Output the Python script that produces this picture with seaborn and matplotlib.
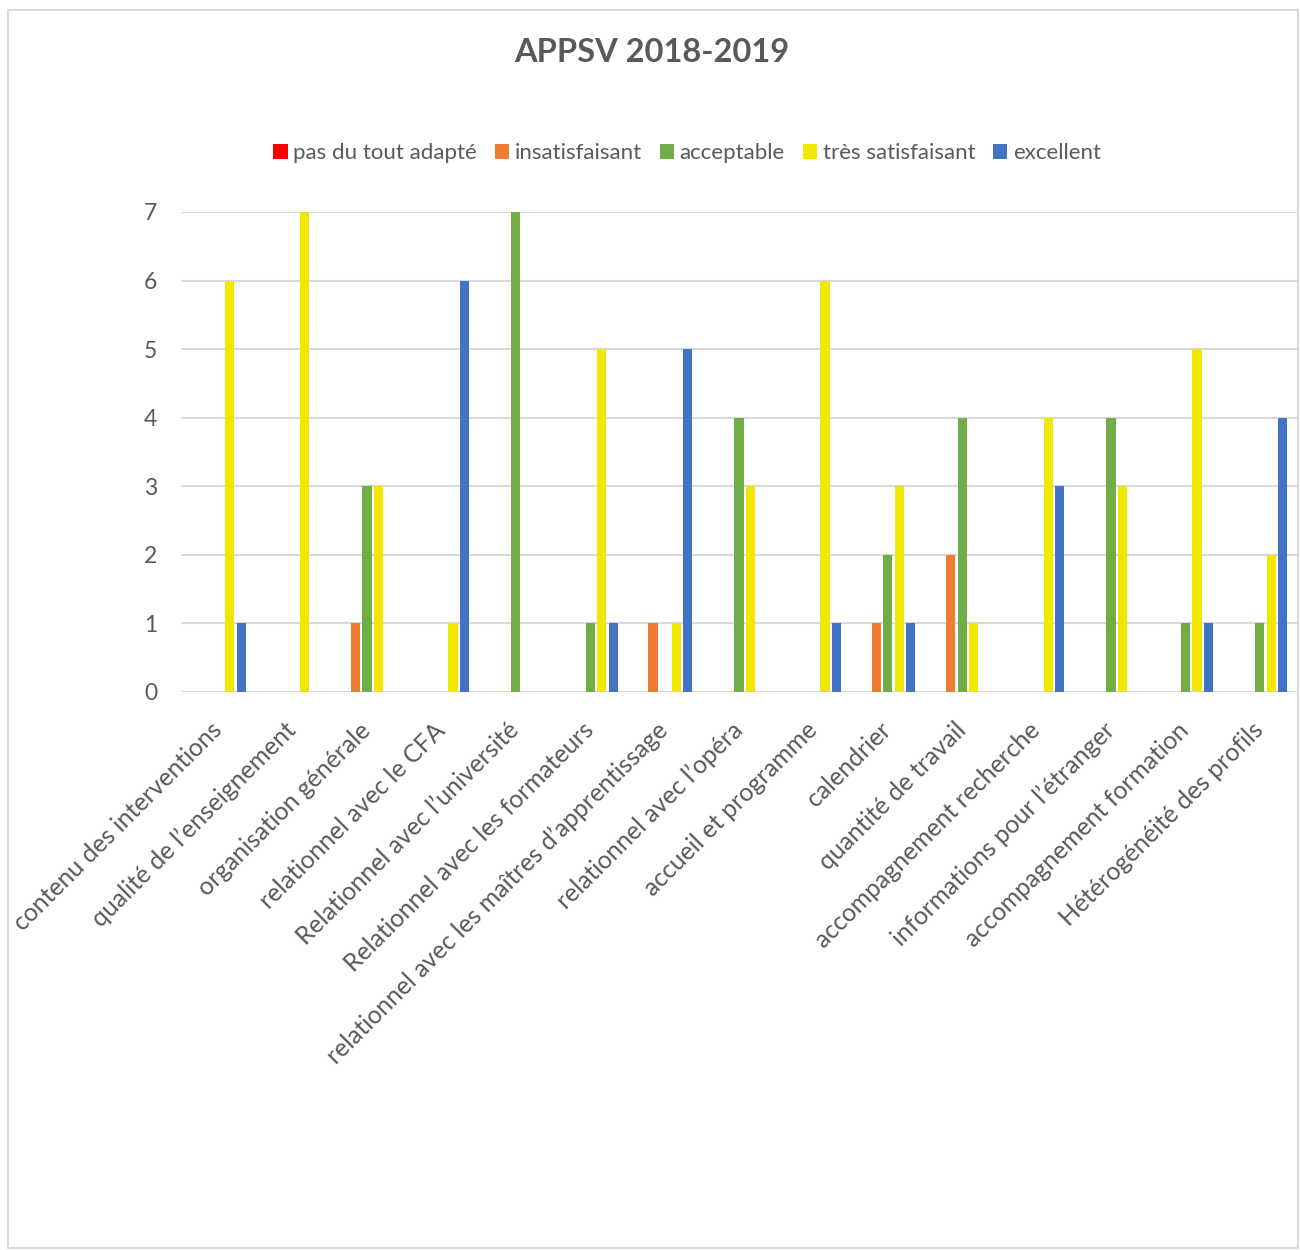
import pandas as pd
import matplotlib.pyplot as plt
import matplotlib.transforms as mtransforms
import seaborn as sns
from matplotlib.patches import Rectangle

###############################################################################
#data
categories = ["contenu des interventions", "qualité de l’enseignement",
              "organisation générale", "relationnel avec le CFA",
              "Relationnel avec l’université", "Relationnel avec les formateurs",
              "relationnel avec les maîtres d’apprentissage", "relationnel avec l’opéra",
              "accueil et programme", "calendrier", "quantité de travail",
              "accompagnement recherche", "informations pour l’étranger",
              "accompagnement formation", "Hétérogénéité des profils"]
pas_du_tout = [0, 0, 0, 0, 0, 0, 0, 0, 0, 0, 0, 0, 0, 0, 0]
insatisfaisant = [0, 0, 1, 0, 0, 0, 1, 0, 0, 1, 2, 0, 0, 0, 0]
acceptable = [0, 0, 3, 0, 7, 1, 0, 4, 0, 2, 4, 0, 4, 1, 1]
tres_satisfaisant = [6, 7, 3, 1, 0, 5, 1, 3, 6, 3, 1, 4, 3, 5, 2]
excellent = [1, 0, 0, 6, 0, 1, 5, 0, 1, 1, 0, 3, 0, 1, 4]
series = ["pas du tout adapté", "insatisfaisant", "acceptable", "très satisfaisant", "excellent"]
colors = ["#FF0000", "#ED7D31", "#70AD47", "#F0E800", "#4472C4"]

#long format for seaborn
rows = []
for name, vals in zip(series, [pas_du_tout, insatisfaisant, acceptable, tres_satisfaisant, excellent]):
    for cat, v in zip(categories, vals):
        rows.append({"categorie": cat, "serie": name, "valeur": v})
df = pd.DataFrame(rows)

###############################################################################
sns.set_style("white")
plt.rcParams['font.family'] = ['Lato', 'DejaVu Sans']
grey = "#595959"

fig = plt.figure(figsize=(13, 12.5), dpi=100)
ax = fig.add_axes([181/1300, 1-692/1250, (1297-181)/1300, (692-212)/1250])

sns.barplot(data=df, x="categorie", y="valeur", hue="serie", hue_order=series,
            order=categories, palette=colors, saturation=1, width=0.773, gap=0.2,
            linewidth=0, ax=ax, errorbar=None)

ax.set_ylim(0, 7)
ax.set_yticks(range(0, 8))
ax.set_xlim(-0.5, len(categories) - 0.5)
ax.yaxis.grid(True, color="#D9D9D9", linewidth=1.5)
ax.set_axisbelow(True)
for s in ax.spines.values():
    s.set_visible(False)
ax.set_xlabel("")
ax.set_ylabel("")
ax.tick_params(axis="y", length=0, pad=17, labelsize=16.5, labelcolor=grey)
ax.tick_params(axis="x", length=0, pad=19, labelsize=17.8, labelcolor=grey)
#nudge the rotated labels a little to the left
shift = mtransforms.ScaledTranslation(-6/72, 0, fig.dpi_scale_trans)
for lab in ax.get_xticklabels():
    lab.set_rotation(45)
    lab.set_ha("right")
    lab.set_rotation_mode("anchor")
    lab.set_transform(lab.get_transform() + shift)

sns.move_legend(ax, "upper center", bbox_to_anchor=(687/1300, 1-123/1250),
                bbox_transform=fig.transFigure, ncol=5, frameon=False, title=None,
                fontsize=16, handlelength=0.65, handleheight=0.65,
                handletextpad=0.25, columnspacing=0.8, labelcolor=grey)

fig.text(652/1300, 1-53/1250, "APPSV 2018-2019", ha="center", va="center",
         fontsize=23.5, fontweight="bold", color=grey)

#light frame round the chart
fig.patches.append(Rectangle((8/1300, 2/1250), 1290/1300, 1238/1250, transform=fig.transFigure,
                             fill=False, edgecolor="#D9D9D9", linewidth=1.5))

plt.savefig("out.png", dpi=100)
